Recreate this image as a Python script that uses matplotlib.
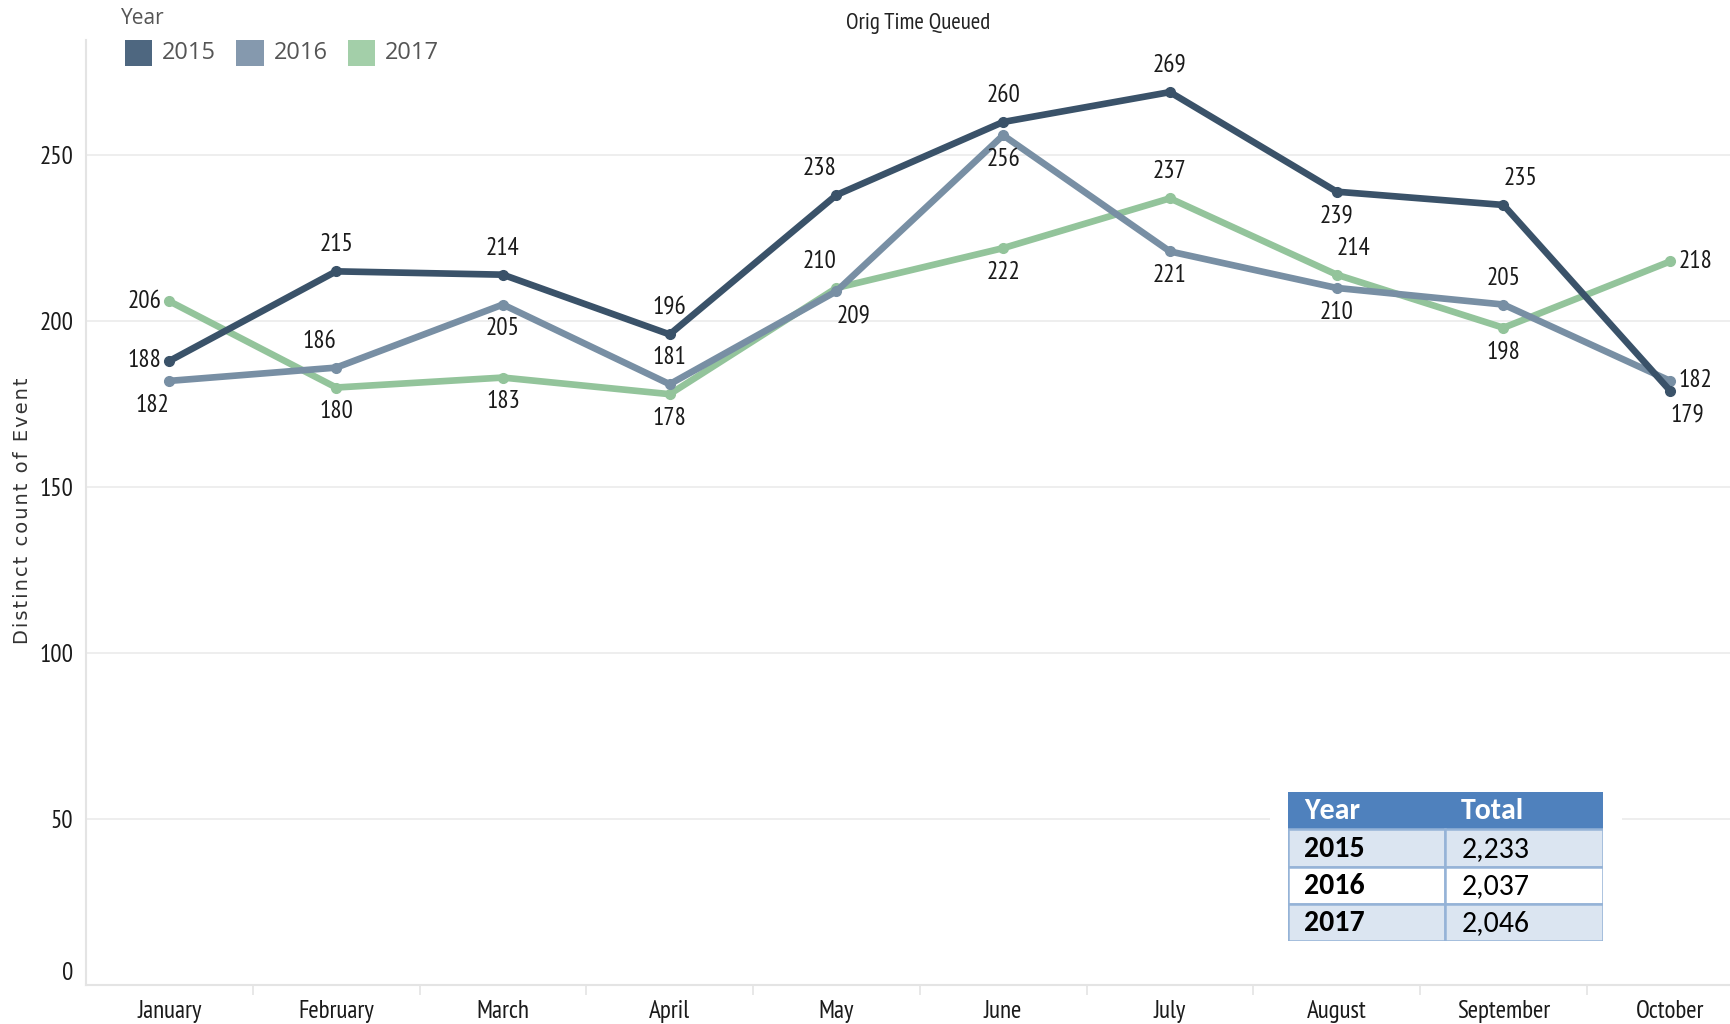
import matplotlib
matplotlib.use("Agg")
import matplotlib.pyplot as plt
from matplotlib.patches import Rectangle


MONTHS = ["January", "February", "March", "April", "May",
          "June", "July", "August", "September", "October"]
YEARS = ["2015", "2016", "2017"]
COUNT_2015 = [188, 215, 214, 196, 238, 260, 269, 239, 235, 179]
COUNT_2016 = [182, 186, 205, 181, 209, 256, 221, 210, 205, 182]
COUNT_2017 = [206, 180, 183, 178, 210, 222, 237, 214, 198, 218]
Y_TICKS = [0, 50, 100, 150, 200, 250]

LINE_COLORS = ["#3a5269", "#788fa4", "#93c49b"]
LEGEND_COLORS = ["#4e6780", "#8599ae", "#a3cfa9"]

# where each value label sits relative to its point
LABEL_POS_2015 = ["l", "a", "a", "a", "al", "a", "a", "b", "ar", "br"]
LABEL_POS_2016 = ["bl", "al", "b", "a", "br", "b", "b", "b", "a", "r"]
LABEL_POS_2017 = ["l", "b", "b", "b", "al", "b", "a", "ar", "b", "r"]

OFFSETS = {
    "a": (0, 19, "center"), "b": (0, -17.5, "center"),
    "l": (-6, 0, "right"), "r": (6, 0, "left"),
    "al": (-12, 19, "center"), "ar": (12, 19, "center"),
    "bl": (-12, -17.5, "center"), "br": (12, -17.5, "center"),
}

NARROW = ["PT Sans Narrow", "DejaVu Sans"]
TABLE_FONT = ["Carlito", "Lato", "DejaVu Sans"]
W, H = 1731, 1024


def fx(px):
    return px / W


def fy(px):
    return 1 - px / H


fig = plt.figure(figsize=(W / 100, H / 100), dpi=100)
ax = fig.add_axes([fx(86), fy(985), 1 - fx(86), (985 - 40) / H])

series = [COUNT_2015, COUNT_2016, COUNT_2017]
placements = [LABEL_POS_2015, LABEL_POS_2016, LABEL_POS_2017]
x = list(range(len(MONTHS)))

for i, (vals, pos) in enumerate(zip(series, placements)):
    ax.plot(x, vals, color=LINE_COLORS[i], lw=4.8, marker="o", ms=7,
            solid_capstyle="round", zorder=5 - i)
    for xi, v, p in zip(x, vals, pos):
        dx, dy, ha = OFFSETS[p]
        ax.annotate(str(v), (xi, v), xytext=(dx, dy), textcoords="offset points",
                    ha=ha, va="center", fontsize=18, family=NARROW, color="#1a1a1a",
                    zorder=10)

ax.set_xlim(-0.5, (W - 169) / 166.8)
ax.set_ylim(0, 284.7)
ax.set_yticks(Y_TICKS)
ax.set_yticklabels([str(t) for t in Y_TICKS], family=NARROW, fontsize=18, color="#1a1a1a")
ax.set_xticks(x)
ax.set_xticklabels(MONTHS, family=NARROW, fontsize=18, color="#1a1a1a")
ax.set_xticks([k + 0.5 for k in x[:-1]], minor=True)
ax.tick_params(axis="both", which="major", length=0)
ax.tick_params(axis="y", pad=9)
ax.tick_params(axis="x", pad=11)
ax.tick_params(axis="x", which="minor", length=7, color="#e4e4e4", width=1.2)
ax.get_yticklabels()[0].set_verticalalignment("bottom")

ax.grid(axis="y", color="#ebebeb", lw=1.2)
ax.set_axisbelow(True)
for side in ["top", "right"]:
    ax.spines[side].set_visible(False)
for side in ["left", "bottom"]:
    ax.spines[side].set_color("#e4e4e4")
    ax.spines[side].set_linewidth(1.5)

fig.text(fx(918), fy(23), "Orig Time Queued", ha="center", va="center",
         fontsize=16.5, family=NARROW, color="#222222")
ylabel = "\u200a".join("Distinct count of Event")
fig.text(fx(23), fy(511), ylabel, rotation=90, ha="center",
         va="center", fontsize=14, family="DejaVu Sans", color="#333333")

# legend
fig.text(fx(121), fy(18), "Year", ha="left", va="center", fontsize=15,
         family="Open Sans", color="#555555")
for i, year in enumerate(YEARS):
    left = 125 + i * 111.5
    fig.add_artist(Rectangle((fx(left), fy(66)), 27 / W, 26 / H,
                             transform=fig.transFigure, fc=LEGEND_COLORS[i], ec="none"))
    fig.text(fx(left + 37), fy(53), year, ha="left", va="center", fontsize=17,
             family="Open Sans", color="#555555")

# totals table
totals = [sum(v) for v in series]
fig.add_artist(Rectangle((fx(1270), fy(958)), 352 / W, 183 / H,
                         transform=fig.transFigure, fc="white", ec="none", zorder=1))
tab = fig.add_axes([fx(1288), fy(941), 315 / W, 149 / H], zorder=2)
tab.set_xlim(0, 1)
tab.set_ylim(4, 0)
tab.axis("off")

tab.add_patch(Rectangle((0, 0), 1, 1, fc="#4f81bd", ec="#4f81bd", lw=1.5))
tab.text(0.05, 0.52, "Year", ha="left", va="center", fontsize=21.5,
         fontweight="bold", family=TABLE_FONT, color="white")
tab.text(0.55, 0.52, "Total", ha="left", va="center", fontsize=21.5,
         fontweight="bold", family=TABLE_FONT, color="white")
for r, (year, tot) in enumerate(zip(YEARS, totals), start=1):
    fill = "#dbe5f1" if r % 2 == 1 else "white"
    for c in range(2):
        tab.add_patch(Rectangle((c * 0.5, r), 0.5, 1, fc=fill, ec="#95b3d7", lw=1.8))
    tab.text(0.05, r + 0.52, year, ha="left", va="center", fontsize=21.5,
             fontweight="bold", family=TABLE_FONT, color="black")
    tab.text(0.55, r + 0.52, f"{tot:,}", ha="left", va="center", fontsize=21.5,
             family=TABLE_FONT, color="black")

fig.savefig("out.png", dpi=100)
